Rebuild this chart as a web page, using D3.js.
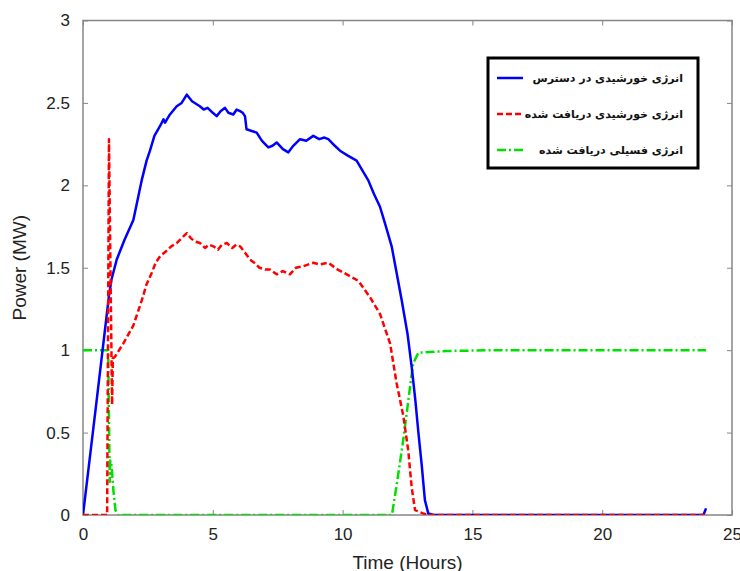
<!DOCTYPE html>
<html>
<head>
<meta charset="utf-8">
<script src="https://cdn.jsdelivr.net/npm/d3@7"></script>
<style>
  body { margin: 0; background: #fff; }
  svg text { font-family: "Liberation Sans", Arial, sans-serif; }
</style>
</head>
<body>
<div id="chart"></div>
<script>
// ======================= data
// available solar energy (blue, solid)
var availHours = [0, 0.5, 1.0, 1.1, 1.3, 1.6, 1.94, 2.1, 2.26, 2.45, 2.58, 2.75, 2.97, 3.1, 3.16, 3.35, 3.61, 3.8, 4.0, 4.1, 4.2, 4.5, 4.65, 4.8, 5.0, 5.15, 5.3, 5.47, 5.6, 5.79, 5.92, 6.05, 6.15, 6.24, 6.3, 6.5, 6.69, 6.85, 6.95, 7.14, 7.3, 7.46, 7.7, 7.91, 8.1, 8.36, 8.6, 8.87, 9.1, 9.3, 9.45, 9.7, 9.9, 10.2, 10.54, 10.8, 10.99, 11.2, 11.44, 11.65, 11.89, 12.08, 12.28, 12.5, 12.66, 12.8, 12.92, 13.05, 13.17, 13.3, 13.5, 23.9, 24.0];
var availMW = [0, 0.66, 1.33, 1.43, 1.55, 1.67, 1.79, 1.91, 2.03, 2.15, 2.21, 2.3, 2.36, 2.4, 2.38, 2.43, 2.48, 2.5, 2.55, 2.53, 2.51, 2.48, 2.46, 2.47, 2.44, 2.42, 2.45, 2.47, 2.44, 2.43, 2.46, 2.45, 2.44, 2.42, 2.34, 2.33, 2.32, 2.28, 2.26, 2.23, 2.24, 2.26, 2.22, 2.2, 2.24, 2.28, 2.27, 2.3, 2.28, 2.29, 2.28, 2.24, 2.21, 2.18, 2.15, 2.08, 2.03, 1.95, 1.87, 1.76, 1.63, 1.47, 1.3, 1.1, 0.9, 0.7, 0.5, 0.3, 0.09, 0.01, 0, 0, 0.04];

// received solar energy (red, dashed)
var solarHours = [0, 0.93, 1.0, 1.12, 1.15, 1.23, 1.55, 1.94, 2.26, 2.45, 2.65, 2.8, 2.97, 3.2, 3.4, 3.61, 3.8, 4.0, 4.15, 4.3, 4.51, 4.7, 4.85, 5.02, 5.2, 5.35, 5.54, 5.75, 5.9, 6.05, 6.25, 6.43, 6.6, 6.8, 7.01, 7.2, 7.46, 7.7, 7.97, 8.2, 8.5, 8.87, 9.1, 9.45, 9.8, 10.16, 10.61, 11.06, 11.44, 11.83, 12.08, 12.34, 12.53, 12.66, 12.79, 13.1, 13.3, 24.0];
var solarMW = [0, 0, 2.28, 0.67, 0.95, 0.96, 1.04, 1.15, 1.3, 1.4, 1.47, 1.53, 1.57, 1.6, 1.63, 1.65, 1.68, 1.71, 1.68, 1.66, 1.65, 1.62, 1.64, 1.63, 1.61, 1.64, 1.65, 1.62, 1.64, 1.63, 1.59, 1.55, 1.53, 1.5, 1.49, 1.49, 1.46, 1.48, 1.46, 1.5, 1.51, 1.53, 1.52, 1.53, 1.49, 1.46, 1.42, 1.32, 1.22, 1.04, 0.8, 0.6, 0.39, 0.17, 0.03, 0.01, 0, 0];

// received fossil energy (green, dash-dot)
var fossilHours = [0, 0.97, 1.0, 1.03, 1.05, 1.1, 1.17, 1.25, 1.35, 11.9, 12.1, 12.34, 12.6, 12.72, 12.92, 14.0, 16.0, 24.0];
var fossilMW = [1, 1, 0.6, 0.2, 0.33, 0.3, 0.15, 0.03, 0, 0, 0.2, 0.46, 0.78, 0.92, 0.985, 0.995, 1.0, 1.0];

var legendLabels = ["انرژی خورشیدی در دسترس", "انرژی خورشیدی دریافت شده", "انرژی فسیلی دریافت شده"];
var xTicks = [0, 5, 10, 15, 20, 25];
var yTicks = [0, 0.5, 1, 1.5, 2, 2.5, 3];

// ======================= layout
var svgWidth = 740;
var svgHeight = 571;

var chartMargin = {
  top: 20.5,
  right: 8,
  bottom: 56,
  left: 83
};

var chartWidth = svgWidth - chartMargin.left - chartMargin.right;
var chartHeight = svgHeight - chartMargin.top - chartMargin.bottom;

var svg = d3.select("#chart")
  .append("svg")
  .attr("width", svgWidth)
  .attr("height", svgHeight);

svg.append("defs").append("clipPath")
  .attr("id", "plotClip")
  .append("rect")
  .attr("width", chartWidth)
  .attr("height", chartHeight);

var chartGroup = svg.append("g")
  .attr("transform", `translate(${chartMargin.left}, ${chartMargin.top})`);

var xScale = d3.scaleLinear().domain([0, 25]).range([0, chartWidth]);
var yScale = d3.scaleLinear().domain([0, 3]).range([chartHeight, 0]);

// axes, matlab style: ticks point inward, box all round
var axisColor = "#868686";

function styleAxis(g, showText) {
  g.select(".domain").remove();
  g.selectAll(".tick line").attr("stroke", axisColor);
  g.selectAll(".tick text")
    .attr("fill", "#222")
    .style("font-size", "17px")
    .style("display", showText ? null : "none");
}

chartGroup.append("g")
  .attr("transform", `translate(0, ${chartHeight})`)
  .call(d3.axisBottom(xScale).tickValues(xTicks).tickSizeInner(-5).tickPadding(13).tickFormat(d3.format("d")))
  .call(g => styleAxis(g, true));

chartGroup.append("g")
  .call(d3.axisTop(xScale).tickValues(xTicks).tickSizeInner(-5).tickFormat(""))
  .call(g => styleAxis(g, false));

chartGroup.append("g")
  .call(d3.axisLeft(yScale).tickValues(yTicks).tickSizeInner(-5).tickPadding(13).tickFormat(d3.format("")))
  .call(g => styleAxis(g, true));

chartGroup.append("g")
  .attr("transform", `translate(${chartWidth}, 0)`)
  .call(d3.axisRight(yScale).tickValues(yTicks).tickSizeInner(-5).tickFormat(""))
  .call(g => styleAxis(g, false));

// frame
chartGroup.append("rect")
  .attr("width", chartWidth)
  .attr("height", chartHeight)
  .attr("fill", "none")
  .attr("stroke", axisColor)
  .attr("stroke-width", 1.5);

// axis titles
svg.append("text")
  .attr("x", chartMargin.left + chartWidth / 2)
  .attr("y", 569)
  .attr("text-anchor", "middle")
  .style("font-size", "19px")
  .attr("fill", "#222")
  .text("Time (Hours)");

svg.append("text")
  .attr("transform", "rotate(-90)")
  .attr("x", -(chartMargin.top + chartHeight / 2))
  .attr("y", 26)
  .attr("text-anchor", "middle")
  .style("font-size", "19px")
  .attr("fill", "#222")
  .text("Power (MW)");

// ======================= lines
var series = [
  { hours: fossilHours, mw: fossilMW, color: "#00e000", dash: "9,3,2,3" },
  { hours: availHours, mw: availMW, color: "#0000ff", dash: null },
  { hours: solarHours, mw: solarMW, color: "#ff0000", dash: "6,3" }
];

var line = d3.line()
  .x(d => xScale(d[0]))
  .y(d => yScale(d[1]));

var plot = chartGroup.append("g").attr("clip-path", "url(#plotClip)");

series.forEach(function (s) {
  plot.append("path")
    .datum(d3.zip(s.hours, s.mw))
    .attr("d", line)
    .attr("fill", "none")
    .attr("stroke", s.color)
    .attr("stroke-width", 2.5)
    .attr("stroke-linejoin", "round")
    .attr("stroke-dasharray", s.dash);
});

// ======================= legend
var legend = svg.append("g").attr("transform", "translate(488, 58)");

legend.append("rect")
  .attr("width", 210)
  .attr("height", 110)
  .attr("fill", "#fff")
  .attr("stroke", "#000")
  .attr("stroke-width", 3);

var legendStyles = [
  { color: "#0000ff", dash: null },
  { color: "#ff0000", dash: "6,3" },
  { color: "#00e000", dash: "9,3,2,3" }
];

legendLabels.forEach(function (label, i) {
  var yRow = 20 + i * 36;
  legend.append("line")
    .attr("x1", 9).attr("x2", 35)
    .attr("y1", yRow).attr("y2", yRow)
    .attr("stroke", legendStyles[i].color)
    .attr("stroke-width", 2.5)
    .attr("stroke-dasharray", legendStyles[i].dash);
  legend.append("text")
    .attr("x", 195)
    .attr("y", yRow + 4)
    .attr("text-anchor", "end")
    .style("font-family", "'DejaVu Sans', sans-serif")
    .style("font-size", "11px")
    .style("font-weight", "bold")
    .attr("fill", "#111")
    .text(label);
});
</script>
</body>
</html>
